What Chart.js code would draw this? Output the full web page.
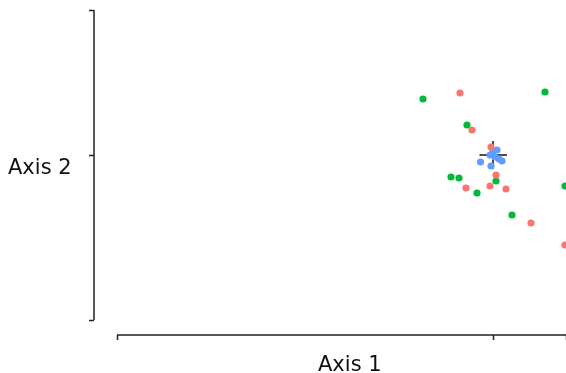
<!DOCTYPE html>
<html>
<head>
<meta charset="utf-8">
<script src="https://cdn.jsdelivr.net/npm/chart.js@4.4.0/dist/chart.umd.min.js"></script>
<style>
  html, body { margin: 0; background: #fff; overflow: hidden; }
  /* a little wider than the window: chart.js keeps ~4px on the right, the original runs to the edge */
  #wrap { width: 570px; height: 373px; }
</style>
</head>
<body>
<div id="wrap"><canvas id="ord"></canvas></div>
<script>
// group points (axis 1, axis 2)
var redX   = [-0.33, -0.21, -0.02, 0.03, -0.27, -0.03, 0.13, 0.38, 0.72];
var redY   = [0.62, 0.25, 0.08, -0.20, -0.33, -0.31, -0.34, -0.68, -0.90];
var greenX = [-0.70, 0.52, -0.26, -0.42, -0.34, 0.03, -0.16, 0.72, 0.19];
var greenY = [0.56, 0.63, 0.30, -0.22, -0.23, -0.26, -0.38, -0.31, -0.60];
var blueX  = [0.04, -0.03, 0.02, 0.09, -0.125, -0.02, 0.00, 0.06];
var blueY  = [0.05, 0.00, -0.02, -0.06, -0.07, -0.11, 0.03, -0.04];

// centroid cross
var crossH = [{x: -0.135, y: 0}, {x: 0.14, y: 0}];
var crossV = [{x: 0, y: 0.14}, {x: 0, y: -0.14}];

// axis limits and ticks
var xLim = [-3.99, 0.73];
var yLim = [-1.80, 1.45];
var xTicks = [-3.76, 0, 0.73];
var yTicks = [1.45, 0, -1.65];

var xTitle = 'Axis 1';
var yTitle = 'Axis 2';

function pts(xs, ys) {
  return xs.map(function(x, i) { return {x: x, y: ys[i]}; });
}

// spines are offset from the plot like in the original, so draw them by hand
var spines = {
  id: 'spines',
  beforeDatasetsDraw: function(chart) {
    var ctx = chart.ctx, xs = chart.scales.x, ys = chart.scales.y;
    ctx.save();
    ctx.strokeStyle = '#222';
    ctx.lineWidth = 1.5;
    ctx.beginPath();
    ctx.moveTo(chart.chartArea.left, ys.getPixelForValue(yTicks[0]));
    ctx.lineTo(chart.chartArea.left, ys.getPixelForValue(yTicks[2]));
    ctx.moveTo(xs.getPixelForValue(xTicks[0]), chart.chartArea.bottom);
    ctx.lineTo(xs.getPixelForValue(xTicks[2]) + 1, chart.chartArea.bottom);
    ctx.stroke();
    // axis titles, placed where the original has them
    ctx.fillStyle = '#111';
    ctx.font = '21px "DejaVu Sans"';
    ctx.textAlign = 'left';
    ctx.textBaseline = 'alphabetic';
    ctx.fillText(yTitle, 8, 174);
    ctx.fillText(xTitle, 318, 371);
    ctx.restore();
  }
};

var tickGrid = {
  drawOnChartArea: false,
  drawTicks: true,
  tickLength: 5,
  tickWidth: 1.5,
  tickColor: '#222'
};

new Chart('ord', {
  type: 'scatter',
  data: {
    datasets: [
      { label: 'a', data: pts(redX, redY), backgroundColor: '#F8766D', pointRadius: 3.6, borderWidth: 0 },
      { label: 'b', data: pts(blueX, blueY), backgroundColor: '#619CFF', pointRadius: 3.6, borderWidth: 0 },
      { label: 'c', data: pts(greenX, greenY), backgroundColor: '#00BA38', pointRadius: 3.6, borderWidth: 0 },
      { label: 'h', type: 'line', data: crossH, borderColor: '#111', borderWidth: 1.5, pointRadius: 0, fill: false },
      { label: 'v', type: 'line', data: crossV, borderColor: '#111', borderWidth: 1.5, pointRadius: 0, fill: false }
    ]
  },
  options: {
    responsive: true,
    maintainAspectRatio: false,
    animation: false,
    layout: { padding: { top: 10, left: 0, right: 0, bottom: 0 } },
    plugins: { legend: { display: false }, tooltip: { enabled: false } },
    scales: {
      x: {
        type: 'linear',
        min: xLim[0], max: xLim[1],
        afterBuildTicks: function(s) { s.ticks = xTicks.map(function(v) { return {value: v}; }); },
        afterFit: function(s) { s.height = 38; },
        ticks: { display: false },
        grid: tickGrid,
        border: { display: false }
      },
      y: {
        type: 'linear',
        min: yLim[0], max: yLim[1],
        afterBuildTicks: function(s) { s.ticks = yTicks.map(function(v) { return {value: v}; }); },
        afterFit: function(s) { s.width = 94; },
        ticks: { display: false },
        grid: tickGrid,
        border: { display: false }
      }
    }
  },
  plugins: [spines]
});
</script>
</body>
</html>
